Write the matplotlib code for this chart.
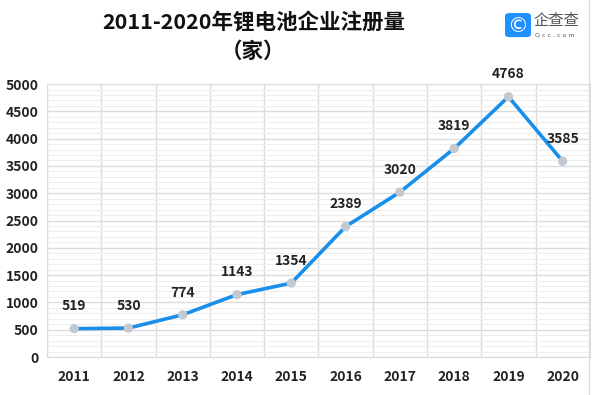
import matplotlib.pyplot as plt
from matplotlib.patches import FancyBboxPatch
from matplotlib.lines import Line2D
from matplotlib.ticker import MultipleLocator

plt.rcParams['font.family'] = ['Noto Sans CJK SC', 'DejaVu Sans']

years = ['2011', '2012', '2013', '2014', '2015', '2016', '2017', '2018', '2019', '2020']
counts = [519, 530, 774, 1143, 1354, 2389, 3020, 3819, 4768, 3585]
yticks = [0, 500, 1000, 1500, 2000, 2500, 3000, 3500, 4000, 4500, 5000]

fig = plt.figure(figsize=(5.92, 3.95), dpi=100)
ax = fig.add_axes([0.0794, 0.0962, 0.917, 0.691])

x = list(range(len(years)))
ax.plot(x, counts, color='#1a8fea', lw=2.6, zorder=3)
ax.scatter(x, counts, s=45, color='#c3c9d0', zorder=4, edgecolors='none')
for xi, v in zip(x, counts):
    ax.annotate(str(v), (xi, v), xytext=(0, 16), textcoords='offset points',
                ha='center', va='center', fontsize=10, fontweight='bold', color='#222222')

ax.set_xlim(-0.5, len(years) - 0.5)
ax.set_ylim(0, 5000)
ax.set_yticks(yticks)
ax.yaxis.set_minor_locator(MultipleLocator(100))
ax.set_xticks(x)
ax.set_xticklabels(years)
ax.set_xticks([i - 0.5 for i in range(len(years) + 1)], minor=True)

ax.grid(which='major', axis='y', color='#dcdcdc', lw=1.0)
ax.grid(which='minor', axis='y', color='#efefef', lw=0.8)
ax.grid(which='minor', axis='x', color='#dcdcdc', lw=1.0)
ax.set_axisbelow(True)
for s in ax.spines.values():
    s.set_color('#dcdcdc')
ax.tick_params(which='both', length=0)
ax.tick_params(axis='x', pad=9)
ax.tick_params(axis='y', pad=6)
for lab in ax.get_xticklabels() + ax.get_yticklabels():
    lab.set_fontweight('bold')
    lab.set_fontsize(10)
    lab.set_color('#222222')

fig.text(0.428, 0.944, '2011-2020年锂电池企业注册量', ha='center', va='center',
         fontsize=15.5, fontweight='bold', color='#111111')
fig.text(0.428, 0.87, '（家）', ha='center', va='center',
         fontsize=15.5, fontweight='bold', color='#111111')

# logo
logo = FancyBboxPatch((0.855, 0.908), 0.040, 0.057, boxstyle='round,pad=0.002,rounding_size=0.008',
                      transform=fig.transFigure, facecolor='#1e90ff', edgecolor='none')
fig.patches.append(logo)
fig.text(0.875, 0.935, '©', ha='center', va='center', fontsize=15, color='white',
         family=['DejaVu Sans'])
fig.text(0.902, 0.948, '企查查', ha='left', va='center', fontsize=11, color='#555555')
fig.text(0.903, 0.912, 'Q c c . c o m', ha='left', va='center', fontsize=4.5, color='#555555',
         family=['DejaVu Sans'])

# right border of the image
fig.add_artist(Line2D([0.995, 0.995], [0, 1], transform=fig.transFigure, color='#dddddd', lw=1))

fig.savefig('out.png', dpi=100)
